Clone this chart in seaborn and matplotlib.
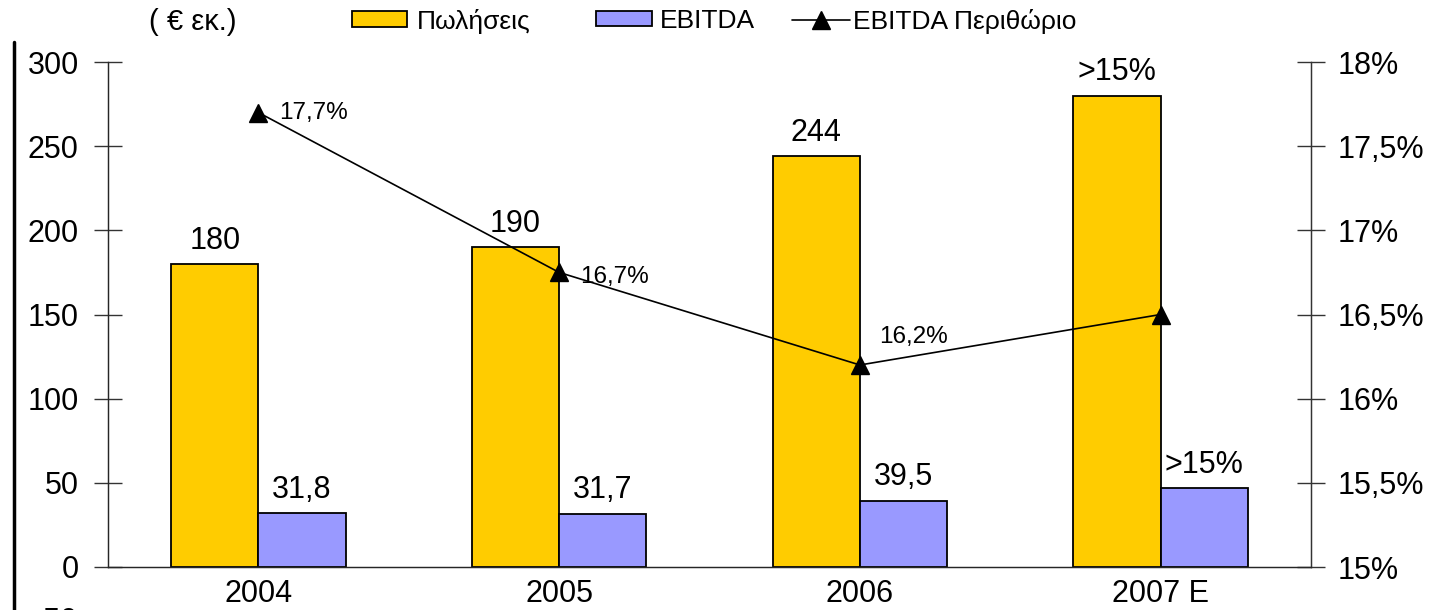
import matplotlib
matplotlib.use("Agg")
import matplotlib.pyplot as plt
from matplotlib.lines import Line2D
from matplotlib.patches import Patch
from matplotlib.ticker import FuncFormatter
import pandas as pd
import seaborn as sns

years = ["2004", "2005", "2006", "2007 E"]
sales = [180, 190, 244, 280]
ebitda = [31.8, 31.7, 39.5, 47]
margin = [17.7, 16.75, 16.2, 16.5]

sales_labels = ["180", "190", "244", ">15%"]
ebitda_labels = ["31,8", "31,7", "39,5", ">15%"]
margin_labels = ["17,7%", "16,7%", "16,2%", ""]

sales_name = "Πωλήσεις"
ebitda_name = "EBITDA"
margin_name = "EBITDA Περιθώριο"

sales_color = "#FFCC00"
ebitda_color = "#9999FF"

sns.set_style("white")
plt.rcParams["font.family"] = ["Liberation Sans", "DejaVu Sans"]
plt.rcParams["text.color"] = "black"
plt.rcParams["xtick.color"] = "black"
plt.rcParams["ytick.color"] = "black"

df = pd.DataFrame({
    "year": years * 2,
    "value": sales + ebitda,
    "series": [sales_name] * 4 + [ebitda_name] * 4,
})

W, H = 1433, 610
fig = plt.figure(figsize=(W / 100, H / 100), dpi=100)
ax = fig.add_axes([108 / W, 1 - 567 / H, (1311 - 108) / W, (567 - 62) / H])

sns.barplot(data=df, x="year", y="value", hue="series",
            palette=[sales_color, ebitda_color], saturation=1, width=0.58, gap=0,
            edgecolor="black", linewidth=1.3, ax=ax, legend=False)

for cont, labs in zip(ax.containers, [sales_labels, ebitda_labels]):
    ax.bar_label(cont, labels=labs, padding=6, fontsize=22)

ax.set_xlim(-0.5, 3.5)
ax.set_ylim(0, 300)
ax.set_yticks(range(0, 301, 50))
ax.set_xlabel("")
ax.set_ylabel("")
ax.tick_params(axis="y", direction="inout", length=20, width=1, color="#333",
               labelsize=22, pad=11)
ax.tick_params(axis="x", length=0, labelsize=22, pad=9)
ax.spines["top"].set_visible(False)
for s in ["left", "bottom", "right"]:
    ax.spines[s].set_color("#333")
    ax.spines[s].set_linewidth(1)

ax2 = ax.twinx()
ax2.plot(range(len(years)), margin, color="black", lw=1.2, marker="^",
         markersize=13.5)
ax2.set_ylim(15, 18)
ax2.set_yticks([15, 15.5, 16, 16.5, 17, 17.5, 18])
ax2.yaxis.set_major_formatter(FuncFormatter(
    lambda v, _: f"{v:g}".replace(".", ",") + "%"))
ax2.tick_params(axis="y", direction="inout", length=20, width=1, color="#333",
                labelsize=22, pad=9)
ax2.spines["top"].set_visible(False)
ax2.spines["right"].set_color("#333")
ax2.grid(False)

offsets = [(15, 0), (15, -3), (14, 20)]
for i, lab in enumerate(margin_labels):
    if not lab:
        continue
    dx, dy = offsets[i]
    ax2.annotate(lab, (i, margin[i]), xytext=(dx, dy), textcoords="offset points",
                 fontsize=17.5, va="center", ha="left")

fs = 19
fs_px = fs * 100 / 72
legend_items = [
    (Patch(facecolor=sales_color, edgecolor="black", linewidth=1.3, label=sales_name),
     352, 55, 10),
    (Patch(facecolor=ebitda_color, edgecolor="black", linewidth=1.3, label=ebitda_name),
     596, 56, 8),
    (Line2D([], [], color="black", lw=1.2, marker="^", markersize=13.5, label=margin_name),
     792, 58, 3),
]
for handle, x0, hlen, tpad in legend_items:
    fig.legend(handles=[handle], loc="center left", bbox_to_anchor=(x0 / W, 1 - 21 / H),
               frameon=False, fontsize=fs, handlelength=hlen / fs_px,
               handleheight=14 / fs_px, handletextpad=tpad / fs_px,
               borderaxespad=0, borderpad=0)

fig.text(193 / W, 1 - 22 / H, "( € εκ.)", fontsize=21, ha="center", va="center")
fig.text(78 / W, 1 - 622 / H, "-50", fontsize=22, ha="right", va="center")
fig.add_artist(Line2D([14 / W, 14 / W], [0, 1 - 42 / H], color="black", lw=2.5))

fig.savefig("out.png", dpi=100)
